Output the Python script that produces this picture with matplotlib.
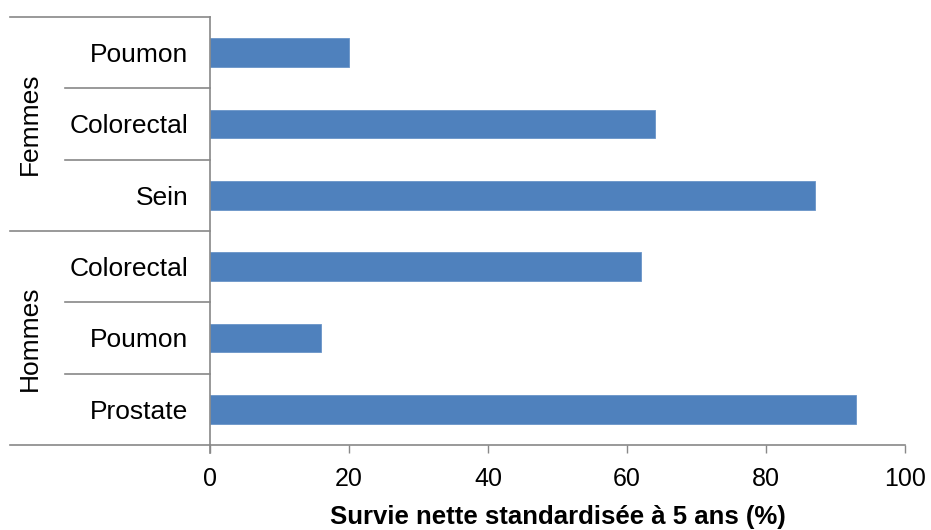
import matplotlib.pyplot as plt

plt.rcParams['font.family'] = ['Liberation Sans', 'DejaVu Sans']

## Data (bottom to top)
cancers = ['Prostate', 'Poumon', 'Colorectal', 'Sein', 'Colorectal', 'Poumon']
survie = [93, 16, 62, 87, 64, 20]
groupes = ['Hommes', 'Femmes']
groupe_taille = [3, 3]

## Figure Initializing
fig = plt.figure(figsize=(9.31, 5.30), dpi=100)
ax = fig.add_axes([0.2256, 0.1604, 0.7465, 0.8076])

y = list(range(len(cancers)))
ax.barh(y, survie, height=0.4, color='#4F81BD', edgecolor='#6A94C8', linewidth=0.6)

ax.set_xlim(0, 100)
ax.set_ylim(-0.5, len(cancers) - 0.5)
ax.set_xticks([0, 20, 40, 60, 80, 100])
ax.set_yticks(y)
ax.set_yticklabels(cancers)
ax.tick_params(axis='y', length=0, pad=15.5, labelsize=19)
ax.tick_params(axis='x', length=6, width=1, color='#888888', labelsize=18, pad=10)
ax.set_xlabel('Survie nette standardisée à 5 ans (%)', fontsize=18.5,
              fontweight='bold', labelpad=10)

for s in ['top', 'right']:
    ax.spines[s].set_visible(False)
for s in ['left', 'bottom']:
    ax.spines[s].set_color('#888888')
    ax.spines[s].set_linewidth(1.2)

## Group separators on the left
trans = ax.get_yaxis_transform()
x_far = -0.288
x_near = -0.209
start = -0.5
for g, n in zip(groupes, groupe_taille):
    for k in range(1, n):
        ax.plot([x_near, 0], [start + k, start + k], color='#888888', lw=1.2,
                transform=trans, clip_on=False)
    ax.plot([x_far, 0], [start, start], color='#888888', lw=1.2,
            transform=trans, clip_on=False)
    ax.text(-0.259, start + n / 2, g, rotation=90, ha='center', va='center',
            fontsize=19, transform=trans)
    start += n
ax.plot([x_far, 0], [start, start], color='#888888', lw=1.2,
        transform=trans, clip_on=False)

# left axis line goes a bit below the x axis
ax.plot([0, 0], [0, -0.019], color='#888888', lw=1.2,
        transform=ax.transAxes, clip_on=False)

fig.savefig('out.png', dpi=100)
